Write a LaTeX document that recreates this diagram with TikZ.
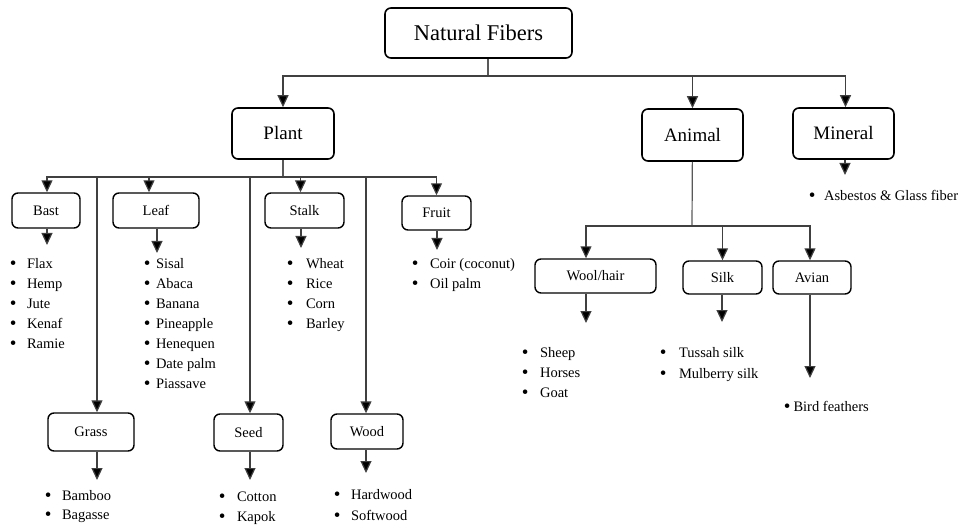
\documentclass[tikz,border=0pt]{standalone}
\usepackage{fontspec}
\setmainfont{Liberation Serif}
\usetikzlibrary{arrows.meta}

\newcommand{\blt}{\raisebox{-1.5pt}{\fontsize{19}{19}\selectfont\textbullet}}

\tikzset{every picture/.style={line width=0.75pt}}
\tikzset{
  catbox/.style={draw=black, line width=1.6pt, rounded corners=6pt, inner sep=0pt, align=center},
  topbox/.style={catbox, font=\fontsize{22.5}{26}\selectfont},
  midbox/.style={catbox, font=\fontsize{19}{22}\selectfont},
  subbox/.style={catbox, line width=1.4pt, font=\fontsize{14.5}{17}\selectfont},
  arr/.style={draw=black!75, line width=1.2pt, -{Triangle[width=11pt,length=12pt,fill=black]}},
  bus/.style={draw=black!65, line width=1.2pt},
  itemlist/.style={anchor=north west, inner sep=0pt, align=left, font=\fontsize{14.5}{20}\selectfont}
}

\begin{document}
\begin{tikzpicture}[x=1pt,y=1pt,yscale=-1,xscale=1]
  %set diagram left start at 0, and has height of 526
  \useasboundingbox (0,0) rectangle (965,526);

  %Shape: Rectangle [top]
  \node [topbox, minimum width=187pt, minimum height=50pt] (nf) at (478.5,33) {Natural Fibers};
  %Shape: Rectangle [second level]
  \node [midbox, minimum width=102pt, minimum height=51pt] (plant) at (283,133.5) {Plant};
  \node [midbox, minimum width=101pt, minimum height=52pt] (animal) at (692.5,135) {Animal};
  \node [midbox, minimum width=101pt, minimum height=51pt] (mineral) at (843.5,133.5) {Mineral};
  %Shape: Rectangle [plant parts]
  \node [subbox, minimum width=68pt, minimum height=35pt] (bast) at (46,210.5) {Bast};
  \node [subbox, minimum width=86pt, minimum height=35pt] (leaf) at (156,210.5) {Leaf};
  \node [subbox, minimum width=79pt, minimum height=35pt] (stalk) at (304.5,210.5) {Stalk};
  \node [subbox, minimum width=69pt, minimum height=34pt] (fruit) at (436.5,213) {Fruit};
  \node [subbox, minimum width=86pt, minimum height=38pt] (grass) at (91,432) {Grass};
  \node [subbox, minimum width=69pt, minimum height=37pt] (seed) at (248.5,432.5) {Seed};
  \node [subbox, minimum width=72pt, minimum height=35pt] (wood) at (367,431.5) {Wood};
  %Shape: Rectangle [animal parts]
  \node [subbox, minimum width=121pt, minimum height=34pt] (wool) at (595.5,276) {Wool/hair};
  \node [subbox, minimum width=79pt, minimum height=33pt] (silk) at (722.5,277.5) {Silk};
  \node [subbox, minimum width=78pt, minimum height=33pt] (avian) at (812,277.5) {Avian};

  %Bus points
  \coordinate (nfbus) at (488,76);
  \coordinate (plantbus) at (283,177);
  \coordinate (animalbus) at (692,226);
  %Free arrow ends
  \coordinate (mineralend) at (845,175);
  \coordinate (bastend) at (47,245);
  \coordinate (leafend) at (157,253);
  \coordinate (stalkend) at (301,248);
  \coordinate (fruitend) at (437,250);
  \coordinate (grassend) at (97,480);
  \coordinate (seedend) at (250,480);
  \coordinate (woodend) at (366,473);
  \coordinate (woolend) at (586,323);
  \coordinate (silkend) at (722,322);
  \coordinate (avianend) at (810,378);

  %Straight Lines [top level]
  \draw [bus] (nf.south -| nfbus) -- (nfbus);
  \draw [arr] (nfbus) -| (plant);
  \draw [arr] (nfbus) -| (animal);
  \draw [arr] (nfbus) -| ([xshift=2pt]mineral.north);
  \draw [arr] (mineral.south -| mineralend) -- (mineralend);

  %Straight Lines [plant]
  \draw [bus] (plant) -- (plantbus);
  \draw [arr] (plantbus) -| ([xshift=1pt]bast.north);
  \draw [arr] (plantbus) -| ([xshift=-7pt]leaf.north);
  \draw [arr] (plantbus) -| ([xshift=-4pt]stalk.north);
  \draw [arr] (plantbus) -| (fruit);
  \draw [arr] (plantbus) -| ([xshift=6pt]grass.north);
  \draw [arr] (plantbus) -| ([xshift=1.5pt]seed.north);
  \draw [arr] (plantbus) -| ([xshift=-1pt]wood.north);
  \draw [arr] (bast.south -| bastend) -- (bastend);
  \draw [arr] (leaf.south -| leafend) -- (leafend);
  \draw [arr] (stalk.south -| stalkend) -- (stalkend);
  \draw [arr] (fruit.south -| fruitend) -- (fruitend);
  \draw [arr] (grass.south -| grassend) -- (grassend);
  \draw [arr] (seed.south -| seedend) -- (seedend);
  \draw [arr] (wood.south -| woodend) -- (woodend);

  %Straight Lines [animal]
  \draw [bus] (animal) -- (animalbus);
  \draw [arr] (animalbus) -| ([xshift=-9.5pt]wool.north);
  \draw [arr] (animalbus) -| (silk);
  \draw [arr] (animalbus) -| ([xshift=-2pt]avian.north);
  \draw [arr] (wool.south -| woolend) -- (woolend);
  \draw [arr] (silk.south -| silkend) -- (silkend);
  \draw [arr] (avian.south -| avianend) -- (avianend);

  % Text Node (first baseline = y + 14)
  \node [itemlist] (mineralitems) at (808.5,186) {\strut\blt\hspace{8.5pt}Asbestos \& Glass fiber};
  % Text Node
  \node [itemlist] (bastitems) at (9.5,254) {\strut\blt\hspace{10.5pt}Flax\\ \blt\hspace{10.5pt}Hemp\\ \blt\hspace{10.5pt}Jute\\ \blt\hspace{10.5pt}Kenaf\\ \blt\hspace{10.5pt}Ramie};
  % Text Node
  \node [itemlist] (leafitems) at (143.5,254) {\strut\blt\hspace{5.5pt}Sisal\\ \blt\hspace{5.5pt}Abaca\\ \blt\hspace{5.5pt}Banana\\ \blt\hspace{5.5pt}Pineapple\\ \blt\hspace{5.5pt}Henequen\\ \blt\hspace{5.5pt}Date palm\\ \blt\hspace{5.5pt}Piassave};
  % Text Node
  \node [itemlist] (stalkitems) at (286.5,254) {\strut\blt\hspace{12.5pt}Wheat\\ \blt\hspace{12.5pt}Rice\\ \blt\hspace{12.5pt}Corn\\ \blt\hspace{12.5pt}Barley};
  % Text Node
  \node [itemlist] (fruititems) at (411.5,254) {\strut\blt\hspace{11.5pt}Coir (coconut)\\ \blt\hspace{11.5pt}Oil palm};
  % Text Node
  \node [itemlist, font=\fontsize{14.5}{19}\selectfont] (grassitems) at (44.5,486.5) {\strut\blt\hspace{10.5pt}Bamboo\\ \blt\hspace{10.5pt}Bagasse};
  % Text Node
  \node [itemlist] (seeditems) at (218.5,487) {\strut\blt\hspace{11.5pt}Cotton\\ \blt\hspace{11.5pt}Kapok};
  % Text Node
  \node [itemlist, font=\fontsize{14.5}{21}\selectfont] (wooditems) at (333.5,484.3) {\strut\blt\hspace{10.5pt}Hardwood\\ \blt\hspace{10.5pt}Softwood};
  % Text Node
  \node [itemlist] (woolitems) at (521.5,343) {\strut\blt\hspace{11.5pt}Sheep\\ \blt\hspace{11.5pt}Horses\\ \blt\hspace{11.5pt}Goat};
  % Text Node
  \node [itemlist, font=\fontsize{14.5}{21}\selectfont] (silkitems) at (659.5,342.3) {\strut\blt\hspace{12.5pt}Tussah silk\\ \blt\hspace{12.5pt}Mulberry silk};
  % Text Node
  \node [itemlist] (avianitems) at (783.5,397) {\strut\blt\hspace{3pt}Bird feathers};

\end{tikzpicture}
\end{document}
